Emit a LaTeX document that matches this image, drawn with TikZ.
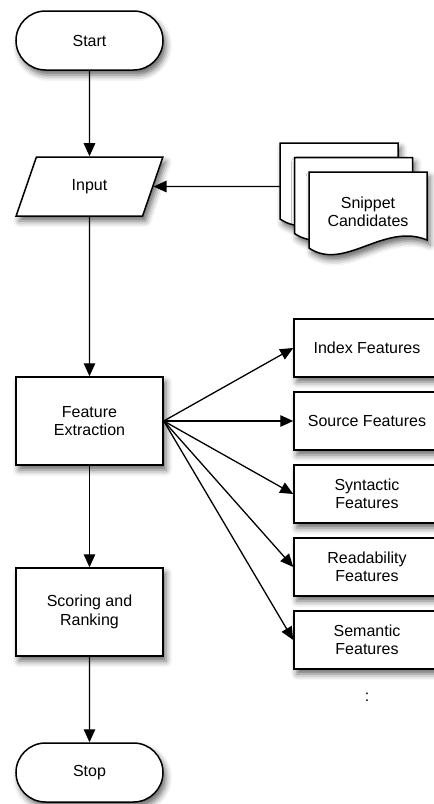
\documentclass[tikz,border=0pt]{standalone}
\usepackage{fontspec}
\setmainfont{Liberation Sans}
\usetikzlibrary{shapes.geometric,shapes.misc,shadows.blur,arrows.meta}

\begin{document}
\begin{tikzpicture}[x=1pt,y=-1pt,
  font=\fontsize{16}{18.5}\selectfont,
  dropshadow/.style={blur shadow={shadow xshift=3pt,shadow yshift=-5pt,
      shadow blur radius=6pt,shadow opacity=60}},
  base/.style={draw=black,line width=1.5pt,fill=white,dropshadow,
      align=center,inner sep=0pt},
  terminal/.style={base,rounded rectangle,minimum width=147pt,minimum height=59pt},
  process/.style={base,rectangle,minimum width=147pt,minimum height=88pt},
  feature/.style={base,rectangle,minimum width=146pt,minimum height=58pt},
  io/.style={base,trapezium,trapezium left angle=64.6,trapezium right angle=115.4,
      trapezium stretches=true,minimum width=147pt,minimum height=59pt},
  flow/.style={line width=1.3pt,-{Triangle[length=13pt,width=11.5pt]}},
  page/.style={draw=black,line width=1.5pt,fill=white,dropshadow},
  docpage/.pic={
    \draw[page] (0,0) -- (118,0) -- (118,68)
      .. controls (75,50) and (35,100) .. (0,76) -- cycle;
  }
]
\useasboundingbox (0,0) rectangle (434,804);
\clip (0,0) rectangle (434,804);

% main flow
\node[terminal] (start) at (89.5,40.5)  {Start};
\node[io]       (in)    at (89.5,186.5) {Input};
\node[process]  (fe)    at (89.5,421)   {Feature\\Extraction};
\node[process]  (sr)    at (89.5,612)   {Scoring and\\Ranking};
\node[terminal] (stop)  at (89.5,772.5) {Stop};

% stack of snippet documents
\pic at (280,143)   {docpage};
\pic at (294.5,157.5) {docpage};
\pic at (309,172)   {docpage};
\node[align=center] (snip) at (368,212) {Snippet\\Candidates};
\coordinate (stackL) at (280,186.5);

% feature groups
\node[feature] (idx) at (367,348) {Index Features};
\node[feature] (src) at (367,421) {Source Features};
\node[feature] (syn) at (367,494) {Syntactic\\Features};
\node[feature] (rea) at (367,567) {Readability\\Features};
\node[feature] (sem) at (367,640) {Semantic\\Features};
\node (more) at (367,697) {:};

% connectors
\draw[flow] (start) -- (in);
\draw[flow] (stackL) -- (in);
\draw[flow] (in) -- (fe);
\draw[flow] (fe) -- (sr);
\draw[flow] (sr) -- (stop);
\foreach \t in {idx,src,syn,rea,sem}
  \draw[flow] (fe.east) -- (\t.west);
\end{tikzpicture}
\end{document}
